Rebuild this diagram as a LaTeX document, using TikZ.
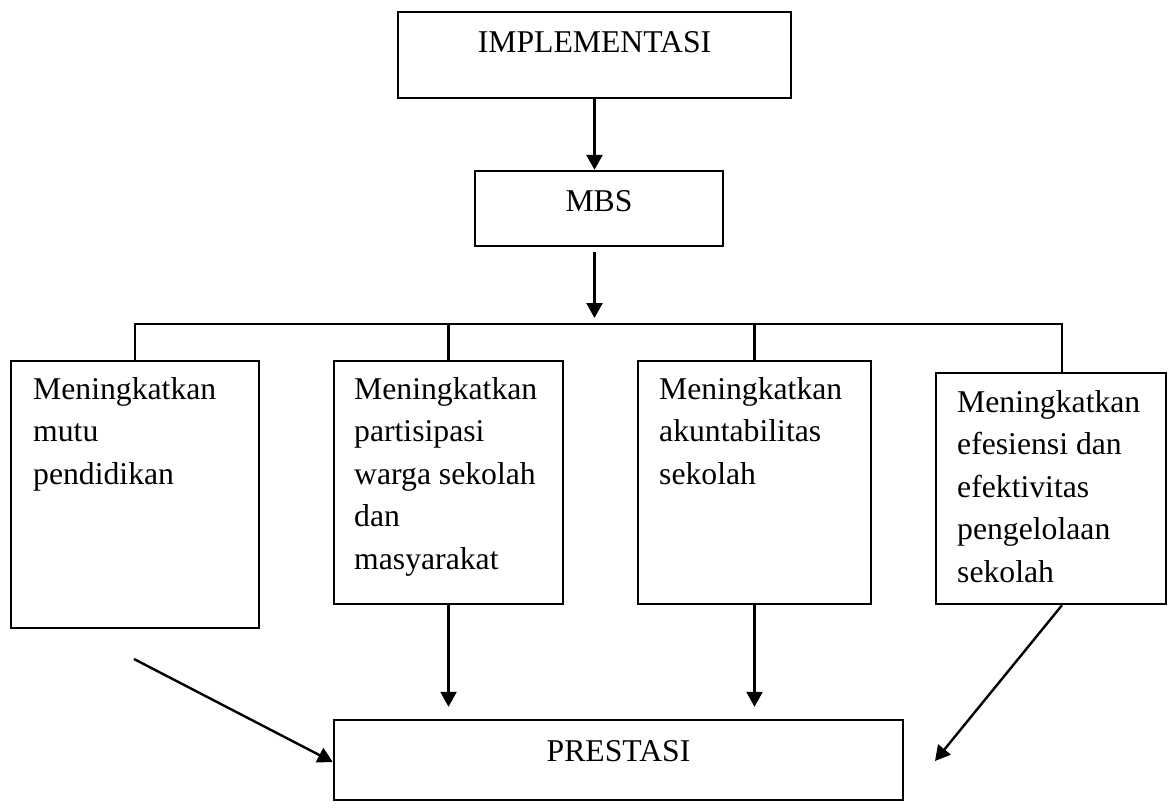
\documentclass[tikz,border=0pt]{standalone}
\usepackage{fontspec}
\setmainfont{Liberation Serif}
\usetikzlibrary{arrows.meta}
\begin{document}
\begin{tikzpicture}[x=1pt,y=-1pt,
  box/.style={draw,line width=2.4pt,inner sep=0pt},
  lbl/.style={inner sep=0pt,font=\fontsize{31.7pt}{42.5pt}\selectfont},
  para/.style={lbl,align=left,anchor=north west},
  conn/.style={line width=2.4pt},
  arr/.style={conn,-{Triangle[length=15pt,width=16pt]}}]
\useasboundingbox (0,0) rectangle (1168,807);
% boxes
\node[box,minimum width=393pt,minimum height=86pt] (impl) at (594.5,55) {};
\node[box,minimum width=248pt,minimum height=75pt] (mbs) at (599,208.5) {};
\node[box,minimum width=248pt,minimum height=267pt] (b1) at (135,494.5) {};
\node[box,minimum width=229pt,minimum height=243pt] (b2) at (448.5,482.5) {};
\node[box,minimum width=233pt,minimum height=243pt] (b3) at (754.5,482.5) {};
\node[box,minimum width=230pt,minimum height=231pt] (b4) at (1051,488.5) {};
\node[box,minimum width=569pt,minimum height=80pt] (pres) at (618.5,760) {};
% texts
\node[lbl,anchor=base] (timpl) at (594.5,52) {IMPLEMENTASI};
\node[lbl,anchor=base] (tmbs) at (599,211) {MBS};
\node[lbl,anchor=base] (tpres) at (618.5,761) {PRESTASI};
\node[para] (t1) at (33,369.2) {\strut Meningkatkan\\mutu\\pendidikan};
\node[para] (t2) at (354,369.2) {\strut Meningkatkan\\partisipasi\\warga sekolah\\dan\\masyarakat};
\node[para] (t3) at (659,369.2) {\strut Meningkatkan\\akuntabilitas\\sekolah};
\node[para] (t4) at (957,382.2) {\strut Meningkatkan\\efesiensi dan\\efektivitas\\pengelolaan\\sekolah};
% coordinates
\coordinate (bus) at (595,324);
\coordinate (bus4) at (1062,324);
\coordinate (d1) at (134,659);
\coordinate (d4) at (935,761);
% connectors
\draw[arr] (impl.south) -- (impl.south |- mbs.north);
\draw[arr,shorten <=5pt,shorten >=6pt] (mbs.south -| impl.south) -- (bus -| impl.south);
\draw[conn] (b1.north) -- (b1.north |- bus) -- (bus4) -- (bus4 |- b4.north);
\draw[conn] (b2.north) -- (b2.north |- bus);
\draw[conn] (b3.north) -- (b3.north |- bus);
\draw[arr,shorten >=12pt] (b2.south) -- (b2.south |- pres.north);
\draw[arr,shorten >=12pt] (b3.south) -- (b3.south |- pres.north);
\draw[arr] (d1) -- ([yshift=-2pt]pres.west);
\draw[arr] (b4.south -| bus4) -- (d4);
\end{tikzpicture}
\end{document}
